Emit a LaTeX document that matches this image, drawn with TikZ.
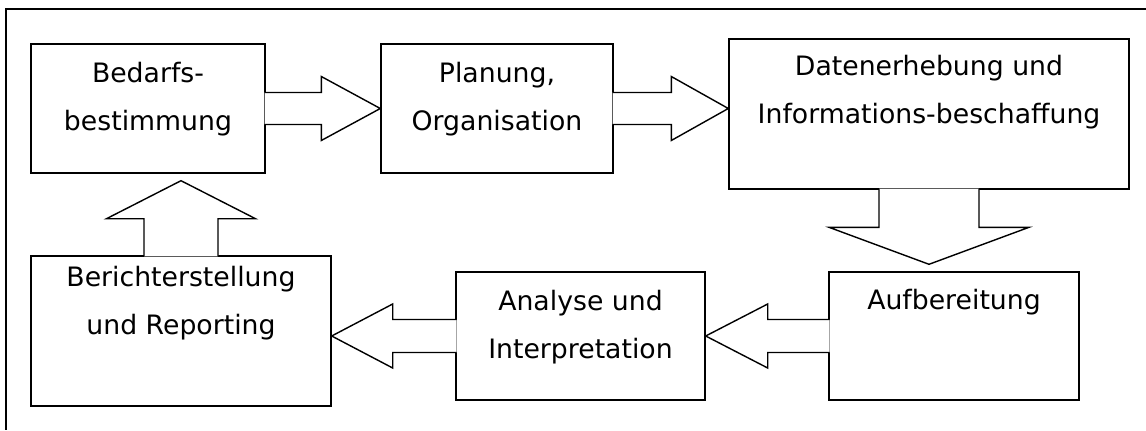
\documentclass[tikz,border=0pt]{standalone}
\usepackage{fontspec}
\setmainfont{DejaVu Sans}
\usetikzlibrary{calc}
\newlength{\pxu}
\setlength{\pxu}{0.02cm}
% text box: width, height, space above first line, text
\newcommand{\boxtext}[4]{\parbox[c][#2][t]{#1}{\vspace*{#3}\centering #4}}

\begin{document}
\begin{tikzpicture}[x=0.02cm, y=0.02cm,
  box/.style={draw, line width=0.8pt, fill=white, inner sep=0pt, font={\fontsize{15.2pt}{27.3pt}\selectfont}},
  barrow/.style={draw, line width=0.8pt, fill=white, line join=miter}]
  \useasboundingbox (0,0) rectangle (1146,430);
  \draw[line width=0.8pt] (1146,421) -- (6,421) -- (6,0);

  \node[box] (bedarf) at (148,321.5) {\boxtext{234\pxu}{129\pxu}{18\pxu}{Bedarfs-\\bestimmung}};
  \node[box] (planung) at (497,321.5) {\boxtext{232\pxu}{129\pxu}{18\pxu}{Planung,\\Organisation}};
  \node[box] (daten) at (929,316) {\boxtext{400\pxu}{150\pxu}{16\pxu}{Datenerhebung und\\Informations-beschaffung}};
  \node[box] (aufb) at (954,94) {\boxtext{250\pxu}{128\pxu}{17\pxu}{Aufbereitung}};
  \node[box] (analyse) at (580.5,94) {\boxtext{249\pxu}{128\pxu}{18\pxu}{Analyse und\\Interpretation}};
  \node[box] (bericht) at (181,99) {\boxtext{300\pxu}{150\pxu}{10\pxu}{Berichterstellung\\und Reporting}};

  % block arrows to the right
  \foreach \a/\b/\h in {bedarf/planung/59, planung/daten/57}{
    \coordinate (tip) at (\a.east -| \b.west);
    \draw[barrow] ($(\a.east)+(-1.2,16)$) -- ($(tip)+(-\h,16)$) -- ($(tip)+(-\h,32)$) -- (tip)
      -- ($(tip)+(-\h,-32)$) -- ($(tip)+(-\h,-16)$) -- ($(\a.east)+(-1.2,-16)$);
  }
  % block arrows to the left
  \foreach \a/\b/\h in {aufb/analyse/62, analyse/bericht/61}{
    \coordinate (tip) at (\a.west -| \b.east);
    \draw[barrow] ($(\a.west)+(1.2,16.5)$) -- ($(tip)+(\h,16.5)$) -- ($(tip)+(\h,32)$) -- (tip)
      -- ($(tip)+(\h,-32)$) -- ($(tip)+(\h,-16.5)$) -- ($(\a.west)+(1.2,-16.5)$);
  }
  % down and up
  \coordinate (tipdown) at ($(daten.south |- aufb.north)+(0,7)$);
  \draw[barrow] ($(daten.south)+(-50,1.2)$) -- ($(tipdown)+(-50,37)$) -- ($(tipdown)+(-100,37)$) -- (tipdown)
    -- ($(tipdown)+(100,37)$) -- ($(tipdown)+(50,37)$) -- ($(daten.south)+(50,1.2)$);
  \coordinate (tipup) at ($(bericht.north |- bedarf.south)+(0,-7)$);
  \draw[barrow] ($(bericht.north)+(-37,-1.2)$) -- ($(tipup)+(-37,-38)$) -- ($(tipup)+(-74.5,-38)$) -- (tipup)
    -- ($(tipup)+(74.5,-38)$) -- ($(tipup)+(37,-38)$) -- ($(bericht.north)+(37,-1.2)$);
\end{tikzpicture}
\end{document}
